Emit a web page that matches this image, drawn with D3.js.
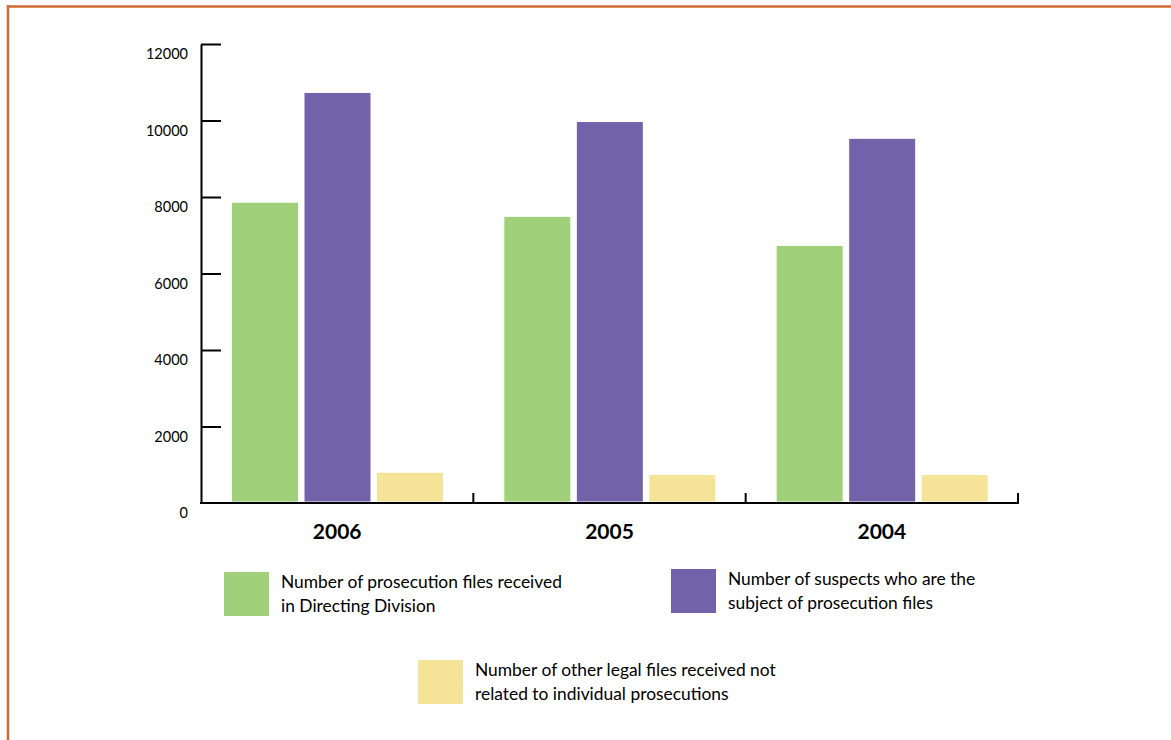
<!DOCTYPE html>
<html>
<head>
<meta charset="utf-8">
<script src="https://cdn.jsdelivr.net/npm/d3@7"></script>
<style>
  body { margin: 0; background: #fff; }
  svg { display: block; font-family: 'Lato', 'Open Sans', sans-serif; }
</style>
</head>
<body>
<svg id="chart" width="1171" height="740"></svg>
<script>
var years = ['2006', '2005', '2004'];
var keys = ['prosecution', 'suspects', 'other'];
var prosecution = [7850, 7480, 6720];
var suspects = [10720, 9960, 9520];
var other = [790, 730, 730];
var yTicks = [0, 2000, 4000, 6000, 8000, 10000, 12000];
var legendLabels = [
    ['Number of prosecution files received', 'in Directing Division'],
    ['Number of suspects who are the', 'subject of prosecution files'],
    ['Number of other legal files received not', 'related to individual prosecutions']
];
var colors = ['#a0d07a', '#7262aa', '#f5e397'];

var series = {prosecution: prosecution, suspects: suspects, other: other};
var data = years.map(function(y, i) {
    return {year: y, values: keys.map(function(k) { return {key: k, value: series[k][i]}; })};
});

var svg = d3.select('#chart');

// orange frame
svg.append('line').attr('x1', 7).attr('x2', 1171).attr('y1', 6.5).attr('y2', 6.5)
    .attr('stroke', '#d06a32').attr('stroke-width', 2.5);
svg.append('line').attr('x1', 8).attr('x2', 8).attr('y1', 5).attr('y2', 740)
    .attr('stroke', '#d06a32').attr('stroke-width', 2.5);

var x0 = d3.scaleBand().domain(years).range([201, 1018]);
var x1 = d3.scaleBand().domain(keys).range([31, 242]).paddingInner(0.09);
var y = d3.scaleLinear().domain([0, 12000]).range([503, 44]);
var z = d3.scaleOrdinal().domain(keys).range(colors);

svg.append('g')
    .selectAll('g')
    .data(data)
    .enter().append('g')
    .attr('transform', function(d) { return 'translate(' + x0(d.year) + ',0)'; })
    .selectAll('rect')
    .data(function(d) { return d.values; })
    .enter().append('rect')
    .attr('x', function(d) { return x1(d.key); })
    .attr('y', function(d) { return y(d.value); })
    .attr('width', x1.bandwidth())
    .attr('height', function(d) { return y(0) - 1.5 - y(d.value); })
    .attr('fill', function(d) { return z(d.key); });

// y axis
var yAxis = svg.append('g')
    .attr('transform', 'translate(201,0)')
    .call(d3.axisLeft(y).tickValues(yTicks).tickFormat(d3.format('d')).tickSizeInner(-20).tickSizeOuter(0).tickPadding(13));
yAxis.select('.domain').attr('stroke', '#000').attr('stroke-width', 2);
yAxis.selectAll('.tick line').attr('stroke', '#000').attr('stroke-width', 2);
yAxis.selectAll('.tick').filter(function(d) { return d === 0; }).select('line').remove();
yAxis.selectAll('.tick text')
    .attr('y', 10)
    .attr('font-size', 14.5)
    .attr('font-family', "'Lato', 'Open Sans', sans-serif")
    .attr('fill', '#000');

// x axis
var xAxis = svg.append('g');
xAxis.append('line')
    .attr('x1', 200).attr('x2', x0.range()[1] + 1)
    .attr('y1', y(0)).attr('y2', y(0))
    .attr('stroke', '#000').attr('stroke-width', 2);
xAxis.selectAll('.xtick')
    .data(years)
    .enter().append('line')
    .attr('class', 'xtick')
    .attr('x1', function(d) { return x0(d) + x0.bandwidth(); })
    .attr('x2', function(d) { return x0(d) + x0.bandwidth(); })
    .attr('y1', y(0) - 10).attr('y2', y(0))
    .attr('stroke', '#000').attr('stroke-width', 2);
xAxis.selectAll('.xlabel')
    .data(years)
    .enter().append('text')
    .attr('x', function(d) { return x0(d) + x0.bandwidth() / 2; })
    .attr('y', 539)
    .attr('text-anchor', 'middle')
    .attr('font-size', 21)
    .attr('font-weight', 'bold')
    .attr('fill', '#000')
    .text(function(d) { return d; });

// legend
var legendPos = [[224, 572], [671, 569], [418, 660]];
var legend = svg.append('g')
    .selectAll('g')
    .data(keys)
    .enter().append('g')
    .attr('transform', function(d, i) { return 'translate(' + legendPos[i][0] + ',' + legendPos[i][1] + ')'; });

legend.append('rect')
    .attr('width', 45)
    .attr('height', 44)
    .attr('fill', z);

legend.append('text')
    .attr('x', 57)
    .attr('y', 16)
    .attr('font-size', 17.4)
    .attr('fill', '#000')
    .selectAll('tspan')
    .data(function(d, i) { return legendLabels[i]; })
    .enter().append('tspan')
    .attr('x', 57)
    .attr('dy', function(d, i) { return i === 0 ? 0 : 23.5; })
    .text(function(d) { return d; });
</script>
</body>
</html>
